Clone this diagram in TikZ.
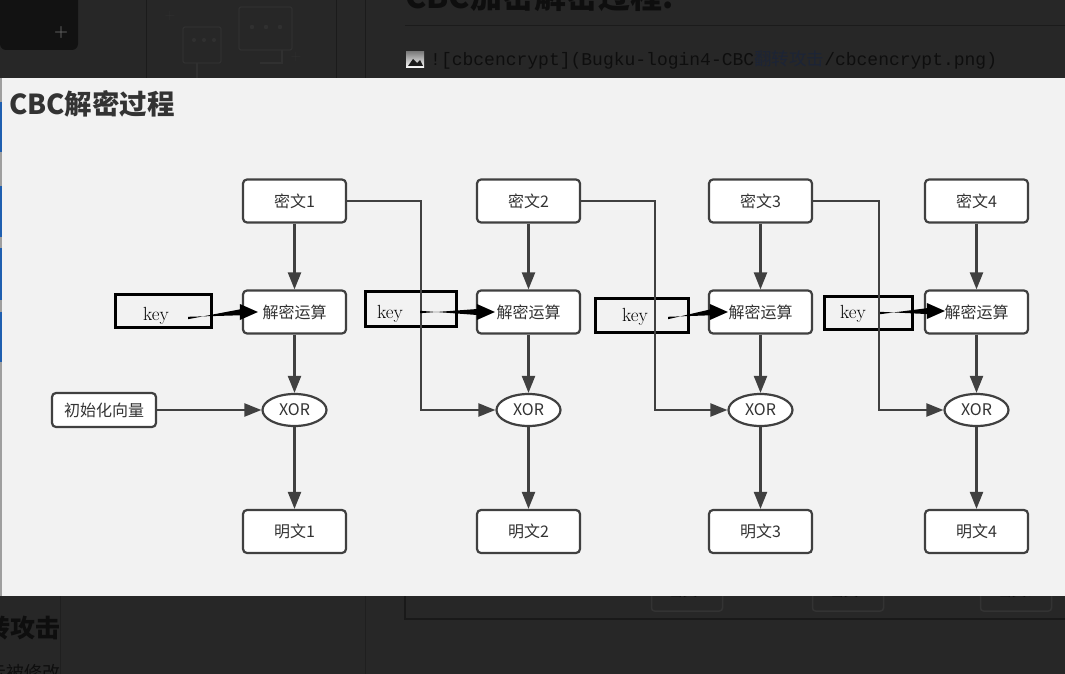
\documentclass[tikz,border=0pt]{standalone}
\usepackage{fontspec}
\newfontfamily\cjk{Noto Sans CJK SC}
\newfontfamily\mono{Liberation Mono}
\usetikzlibrary{arrows.meta,shapes.geometric}
\definecolor{panel}{HTML}{F2F2F2}
\definecolor{darkbg}{HTML}{272727}
\definecolor{edge}{HTML}{404040}
\definecolor{txt}{HTML}{333333}
\definecolor{shade}{HTML}{0E0E0E}
\definecolor{faint}{HTML}{303030}
\definecolor{topbox}{HTML}{121212}
\definecolor{linkblue}{HTML}{1C2436}
\definecolor{bluebit}{HTML}{1F5FB0}
\newcommand\keyarrow[2]{%
  \fill[black] ([yshift=-1.2]#1) -- ([shift={(-15,-3.2)}]#2) -- ([shift={(-15,3.2)}]#2) -- ([yshift=1.2]#1) -- cycle;
  \fill[black] ([shift={(-18,-8)}]#2) -- (#2) -- ([shift={(-18,8)}]#2) -- cycle;}
\begin{document}
\begin{tikzpicture}[x=1pt,y=-1pt,
  box/.style={draw=edge, line width=2.2pt, rounded corners=4pt, fill=white,
    minimum width=103pt, minimum height=43pt, inner sep=0pt,
    font=\cjk\fontsize{16}{16}\selectfont, text=txt},
  xorn/.style={draw=edge, line width=2.2pt, ellipse, fill=white,
    minimum width=64pt, minimum height=32pt, inner sep=0pt,
    font=\cjk\fontsize{16}{16}\selectfont, text=txt},
  keybox/.style={draw=black, line width=3pt, inner sep=0pt},
  keytext/.style={font=\fontsize{19}{19}\selectfont, text=black, inner sep=0pt},
  flow/.style={draw=edge, line width=2.2pt, -{Triangle[length=17pt,width=13pt]}},
  shadowtext/.style={text=shade, inner sep=0pt},
]
\useasboundingbox (0,0) rectangle (1065,674);
\clip (0,0) rectangle (1065,674);
% ---------- dark surroundings ----------
\fill[darkbg] (0,0) rectangle (1065,674);
\fill[topbox] (0,-6) [rounded corners=6pt] -- (78,-6) -- (78,50) -- (0,50) [sharp corners] -- cycle;
\node[text=black!60, font=\fontsize{16}{16}\selectfont\bfseries] at (61,33) {+};
\draw[black!30!darkbg, line width=1pt] (146,0) -- (146,78) (336,0) -- (336,78) (365,0) -- (365,78);
\draw[black!30!darkbg, line width=1pt] (405,26) -- (1065,26);
% faint chat icon
\begin{scope}[draw=faint, line width=1.2pt]
  \draw[rounded corners=2pt] (183,27) rectangle (221,63);
  \draw[rounded corners=2pt] (239,7) rectangle (292,50);
  \draw (197,63) -- (197,78) (282,50) -- (282,63) -- (260,63);
  \fill[faint] (194,40) circle (2) (204,40) circle (2) (214,40) circle (2);
  \fill[faint] (252,27) circle (2.2) (266,27) circle (2.2) (280,27) circle (2.2);
  \node[text=faint, font=\fontsize{14}{14}\selectfont] at (170,16) {+};
  \node[text=faint, font=\fontsize{14}{14}\selectfont] at (296,57) {+};
\end{scope}
\node[shadowtext, anchor=base west, font=\cjk\bfseries\fontsize{32}{32}\selectfont] (hdr) at (405,9) {CBC加密解密过程.};
\fill[shade] (406,52) rectangle (424,68);
\fill[darkbg!70!black] (408,66) -- (413,59) -- (417,63) -- (420,60) -- (423,66) -- cycle;
\node[shadowtext, anchor=base west, font=\mono\fontsize{18}{18}\selectfont] (md) at (430,66)
  {![cbcencrypt](Bugku-login4-CBC{\cjk\fontsize{17.5}{17.5}\selectfont\color{linkblue}翻转攻击}/cbcencrypt.png)};
% bottom part of the page
\draw[black!35!darkbg, line width=1.2pt] (405,560) -- (405,619) -- (1070,619);
\draw[black!20!darkbg, line width=1pt] (60,596) -- (60,674) (365,596) -- (365,674);
\foreach \bx/\lab in {687/密文1, 848/密文2, 1016/密文3}{
  \node[draw=black!80, line width=1.5pt, rounded corners=3pt, fill=darkbg,
    minimum width=71pt, minimum height=40pt, text=shade,
    font=\cjk\fontsize{14}{14}\selectfont] at (\bx,591) {\lab};
}
\node[shadowtext, anchor=base east, font=\cjk\bfseries\fontsize{25}{25}\selectfont] (bt) at (61,637) {转攻击};
\node[shadowtext, anchor=north east, font=\cjk\fontsize{18}{18}\selectfont] (bt2) at (61,664) {示被修改};
% ---------- main panel ----------
\fill[panel] (0,78) rectangle (1065,596);
\fill[gray!75] (0,78) rectangle (2,596);
\foreach \ya/\yb in {102/152, 186/237, 248/300, 312/362}{
  \fill[bluebit] (0,\ya) rectangle (1.6,\yb);
}
\node[anchor=base west, text=txt, inner sep=0pt, font=\cjk\bfseries\fontsize{27.5}{27.5}\selectfont] (title) at (9,114) {CBC解密过程};
% nodes
\foreach \i/\cx in {1/294.5, 2/528.5, 3/760.5, 4/976.5}{
  \node[box] (c\i) at (\cx,201) {密文\i};
  \node[box] (d\i) at (\cx,312) {解密运算};
  \node[xorn] (x\i) at (\cx,410) {XOR};
  \node[box] (p\i) at (\cx,531.5) {明文\i};
}
\node[box, minimum width=104pt, minimum height=34pt] (iv) at (104,410) {初始化向量};
% key boxes
\node[keybox, minimum width=96pt, minimum height=33pt] (k1) at (163.5,311) {};
\node[keybox, minimum width=91pt, minimum height=35pt] (k2) at (411,309) {};
\node[keybox, minimum width=93pt, minimum height=34pt] (k3) at (642,315.5) {};
\node[keybox, minimum width=88pt, minimum height=33pt] (k4) at (868.5,313) {};
\node[keytext] (kt1) at (156,316) {key};
\node[keytext] (kt2) at (390,314) {key};
\node[keytext] (kt3) at (635,317) {key};
\node[keytext] (kt4) at (853,314) {key};
% connectors
\foreach \i in {1,2,3,4}{
  \draw[flow] (c\i) -- (d\i);
  \draw[flow] (d\i) -- (x\i);
  \draw[flow] (x\i) -- (p\i);
}
\draw[flow] (iv) -- (x1);
\draw[flow] (c1.east) -- ++(74,0) |- (x2.west);
\draw[flow] (c2.east) -- ++(74,0) |- (x3.west);
\draw[flow] (c3.east) -- ++(66,0) |- (x4.west);
% key arrows
\coordinate (s1) at ([shift={(-25,7)}]k1.east);
\coordinate (t1) at ([xshift=16]d1.west);
\coordinate (s2) at ([shift={(-38,3)}]k2.east);
\coordinate (t2) at ([xshift=19]d2.west);
\coordinate (s3) at ([shift={(-22,2.5)}]k3.east);
\coordinate (t3) at ([xshift=20]d3.west);
\coordinate (s4) at ([shift={(-34,0)}]k4.east);
\coordinate (t4) at ([shift={(21,-1)}]d4.west);
\keyarrow{s1}{t1}
\keyarrow{s2}{t2}
\keyarrow{s3}{t3}
\keyarrow{s4}{t4}
\end{tikzpicture}
\end{document}
